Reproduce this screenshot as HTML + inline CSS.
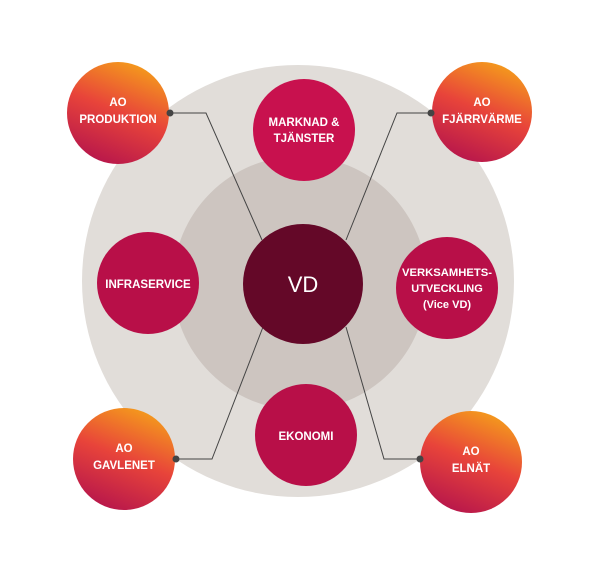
<!DOCTYPE html>
<html><head><style>body{margin:0;background:#fff}svg{display:block}</style></head><body>
<svg width="603" height="581" xmlns="http://www.w3.org/2000/svg" font-family="Liberation Sans, sans-serif">
<defs>
<linearGradient id="g" x1="0.75" y1="0" x2="0.35" y2="1">
<stop offset="0" stop-color="#f5a01a"/><stop offset="0.5" stop-color="#e8443a"/><stop offset="1" stop-color="#b8174b"/>
</linearGradient>
</defs>
<circle cx="298" cy="281" r="216" fill="#e1ddd9"/>
<circle cx="300" cy="283" r="127" fill="#cdc5c0"/>
<g stroke="#444" stroke-width="1" fill="none">
<polyline points="170,113 206,113 262,240"/>
<polyline points="431,113 397,113 346,240"/>
<polyline points="176,459 212,459 263,327"/>
<polyline points="420,459 384,459 346,327"/>
</g>
<circle cx="303" cy="284" r="60" fill="#640828"/>
<g fill="#c8114e"><circle cx="304" cy="130" r="51"/></g>
<g fill="#b80f48"><circle cx="148" cy="283" r="51"/><circle cx="447" cy="288" r="51"/><circle cx="306" cy="435" r="51"/></g>
<g fill="url(#g)"><circle cx="118" cy="113" r="51"/><circle cx="482" cy="112" r="50"/><circle cx="124" cy="459" r="51"/><circle cx="471" cy="462" r="51"/></g>
<g fill="#444"><circle cx="170" cy="113" r="3.5"/><circle cx="431" cy="113" r="3.5"/><circle cx="176" cy="459" r="3.5"/><circle cx="420" cy="459" r="3.5"/></g>
<g fill="#fff" font-weight="bold" font-size="11.5" text-anchor="middle">
<text x="118" y="106">AO</text><text x="118" y="123">PRODUKTION</text>
<text x="482" y="106">AO</text><text x="482" y="123">FJÄRRVÄRME</text>
<text x="124" y="452">AO</text><text x="124" y="469">GAVLENET</text>
<text x="471" y="455">AO</text><text x="471" y="472">ELNÄT</text>
<text x="304" y="126">MARKNAD &amp;</text><text x="304" y="142">TJÄNSTER</text>
<text x="148" y="288">INFRASERVICE</text>
<text x="447" y="276" font-size="11" textLength="90" lengthAdjust="spacingAndGlyphs">VERKSAMHETS-</text><text x="447" y="292" font-size="11">UTVECKLING</text><text x="447" y="308" font-size="11">(Vice VD)</text>
<text x="306" y="440">EKONOMI</text>
<text x="303" y="292" font-weight="normal" font-size="22">VD</text>
</g>
</svg>
</body></html>
